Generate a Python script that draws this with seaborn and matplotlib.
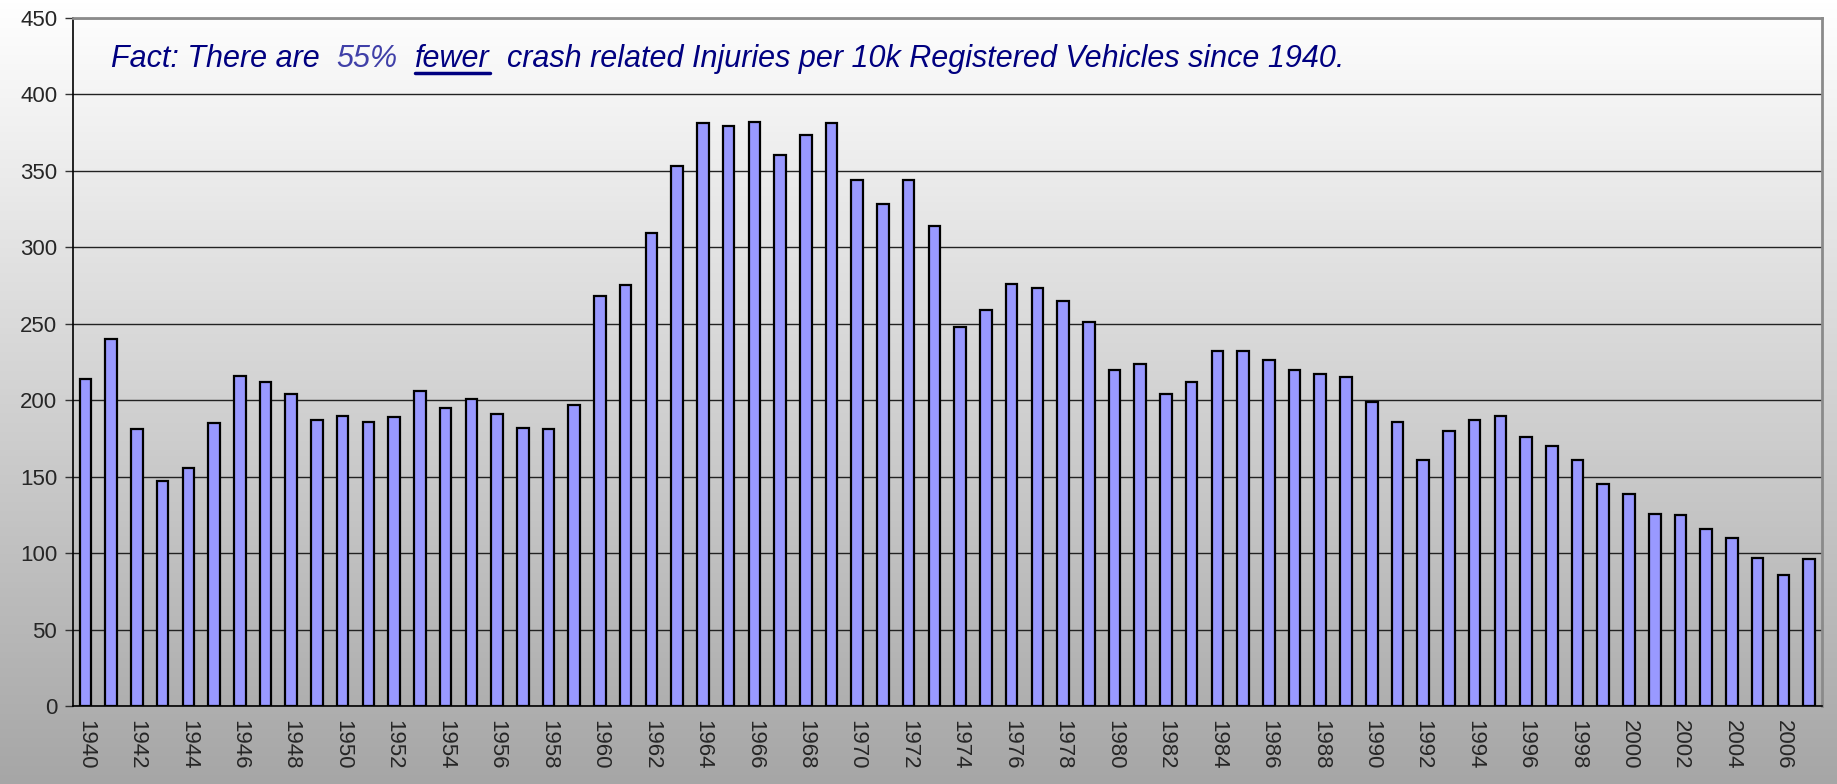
import numpy as np
import pandas as pd
import matplotlib
matplotlib.use("Agg")
import matplotlib.pyplot as plt
from matplotlib.ticker import FixedLocator
import seaborn as sns

# injuries per 10k registered vehicles, 1940-2007
years = list(range(1940, 2008))
injuries = [214, 240, 181, 147, 156, 185, 216, 212, 204, 187,
            190, 186, 189, 206, 195, 201, 191, 182, 181, 197,
            268, 275, 309, 353, 381, 379, 382, 360, 373, 381,
            344, 328, 344, 314, 248, 259, 276, 273, 265, 251,
            220, 224, 204, 212, 232, 232, 226, 220, 217, 215,
            199, 186, 161, 180, 187, 190, 176, 170, 161, 145,
            139, 126, 125, 116, 110, 97, 86, 96]
y_ticks = list(range(0, 451, 50))

df = pd.DataFrame({"year": [str(y) for y in years], "injuries": injuries})

sns.set_style("white")
plt.rcParams["font.family"] = ["Liberation Sans", "DejaVu Sans"]

fig = plt.figure(figsize=(18.37, 7.84), dpi=100)

# gradient background over whole figure
bg = fig.add_axes([0, 0, 1, 1], zorder=-10)
grad = np.linspace(1.0, 0.0, 256).reshape(-1, 1)
cmap = matplotlib.colors.LinearSegmentedColormap.from_list("g", ["#a6a6a6", "#ffffff"])
bg.imshow(grad, aspect="auto", cmap=cmap, extent=[0, 1, 0, 1])
bg.axis("off")

ax = fig.add_axes([0.0395, 0.099, 0.9523, 0.8786])
ax.patch.set_alpha(0)

sns.barplot(data=df, x="year", y="injuries", color="#9999ff", saturation=1,
            edgecolor="black", linewidth=1.6, width=0.45, ax=ax, zorder=3)

ax.set_ylim(0, 450)
ax.set_xlim(-0.5, len(years) - 0.5)
ax.set_yticks(y_ticks)
ax.yaxis.grid(True, color="#222222", linewidth=1.0, zorder=0)
ax.set_axisbelow(True)
ax.set_xlabel("")
ax.set_ylabel("")

ax.set_xticks(range(0, len(years), 2))
ax.set_xticklabels([str(y) for y in years[::2]], rotation=-90, fontsize=16)
ax.xaxis.set_minor_locator(FixedLocator(np.arange(-0.5, len(years), 1)))
ax.tick_params(axis="x", which="major", length=0, pad=10)
ax.tick_params(axis="x", which="minor", length=6, width=1, color="#333333", direction="out")
ax.tick_params(axis="y", which="major", length=6, width=1, color="#333333",
               direction="out", labelsize=16, pad=5, left=True)

for s in ["left", "bottom"]:
    ax.spines[s].set_color("black")
    ax.spines[s].set_linewidth(1.2)
for s in ["top", "right"]:
    ax.spines[s].set_color("#8a8a8a")
    ax.spines[s].set_linewidth(2)

# fact text, built piece by piece
fig.canvas.draw()
renderer = fig.canvas.get_renderer()
pieces = [("Fact: There are  ", "#000080", False),
          ("55%", "#4040a8", False),
          ("  ", "#000080", False),
          ("fewer", "#000080", True),
          ("  crash related Injuries per 10k Registered Vehicles since 1940.", "#000080", False)]
x0 = 111 / 1837
y0 = 1 - 67 / 784
for txt, col, under in pieces:
    t = fig.text(x0, y0, txt, color=col, fontsize=22, style="italic",
                 ha="left", va="baseline")
    bb = t.get_window_extent(renderer)
    x1 = bb.x1 / fig.bbox.width
    if under:
        fig.add_artist(matplotlib.lines.Line2D([x0, x1], [y0 - 0.008, y0 - 0.008],
                                               color="#000080", linewidth=2.5,
                                               transform=fig.transFigure))
    x0 = x1

fig.savefig("out.png", dpi=100)
